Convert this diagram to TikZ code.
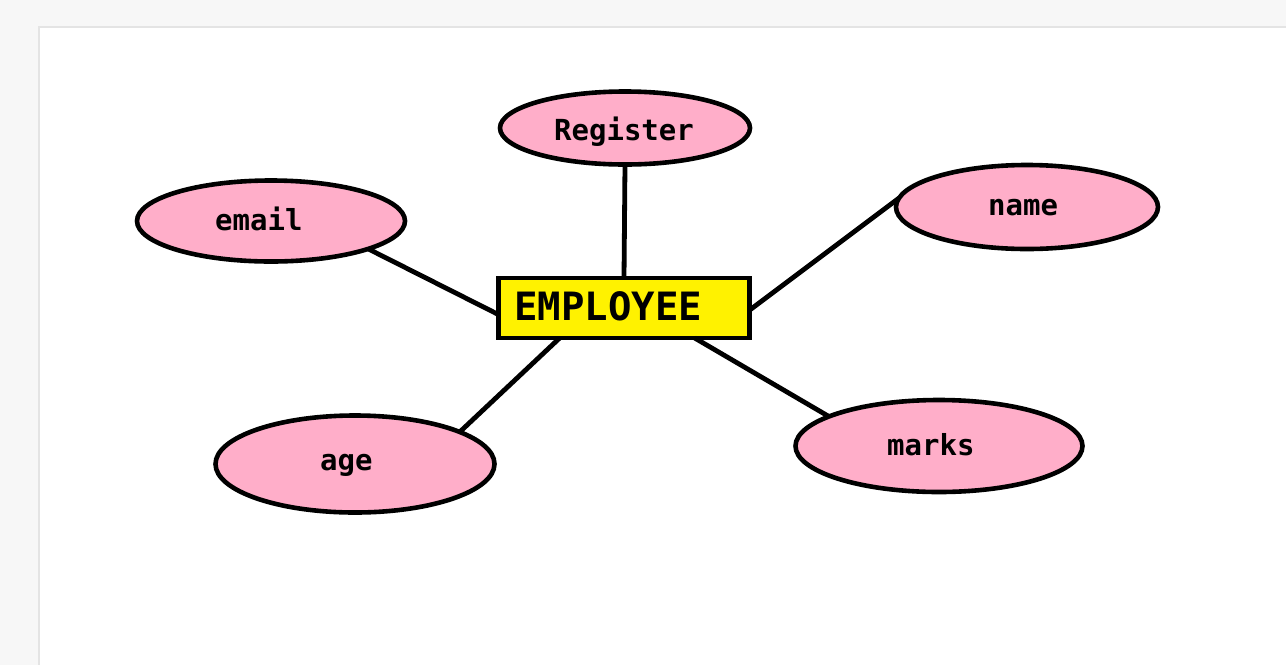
\documentclass[tikz,border=0pt]{standalone}
\usepackage{fontspec}
\newfontfamily\monob{DejaVu Sans Mono}
\usetikzlibrary{shapes.geometric}
\definecolor{pagegray}{HTML}{F7F7F7}
\definecolor{pageedge}{HTML}{E4E4E4}
\definecolor{attrpink}{HTML}{FFAEC9}
\definecolor{entyellow}{HTML}{FFF200}
\begin{document}
\begin{tikzpicture}[x=1pt,y=-1pt,
  attr/.style={ellipse, draw=black, line width=4.6pt, fill=attrpink, inner sep=0pt, outer sep=0pt},
  ent/.style={rectangle, draw=black, line width=4.6pt, fill=entyellow, inner sep=0pt, outer sep=0pt, minimum width=251pt, minimum height=60pt},
  lbl/.style={anchor=base west, inner sep=0pt, text=black, font=\monob\bfseries\fontsize{29}{29}\selectfont},
  biglbl/.style={anchor=base west, inner sep=0pt, text=black, font=\monob\bfseries\fontsize{39}{39}\selectfont},
  link/.style={draw=black, line width=4.8pt}]
\useasboundingbox (0,0) rectangle (1286,665);
\fill[pagegray] (0,0) rectangle (1286,665);
\draw[pageedge, line width=2pt] (39,665) -- (39,27) -- (1286,27);
\fill[white] (40,28) rectangle (1286,665);

% entity
\node[ent] (emp) at (624,308) {};
\node[biglbl] (empt) at (514,320) {EMPLOYEE};

% attributes
\node[attr, minimum width=250pt, minimum height=73pt] (register) at (625,128) {};
\node[attr, minimum width=268pt, minimum height=81pt] (email) at (271,221) {};
\node[attr, minimum width=262pt, minimum height=84pt] (name) at (1027,207) {};
\node[attr, minimum width=279pt, minimum height=97pt] (age) at (355,464) {};
\node[attr, minimum width=287pt, minimum height=92pt] (marks) at (939,446) {};

\node[lbl] (registert) at (554,140) {Register};
\node[lbl] (emailt) at (215,230) {email};
\node[lbl] (namet) at (988,215) {name};
\node[lbl] (aget) at (320,470) {age};
\node[lbl] (markst) at (887,455) {marks};

% connectors
\draw[link] (register.south) -- (emp.north);
\draw[link] (email.-16.5) -- (emp.183.6);
\draw[link] (name.176.8) -- (emp.-1.5);
\draw[link] (age.17) -- (emp.205.5);
\draw[link] (marks.165.8) -- (emp.-23.8);
\end{tikzpicture}
\end{document}
